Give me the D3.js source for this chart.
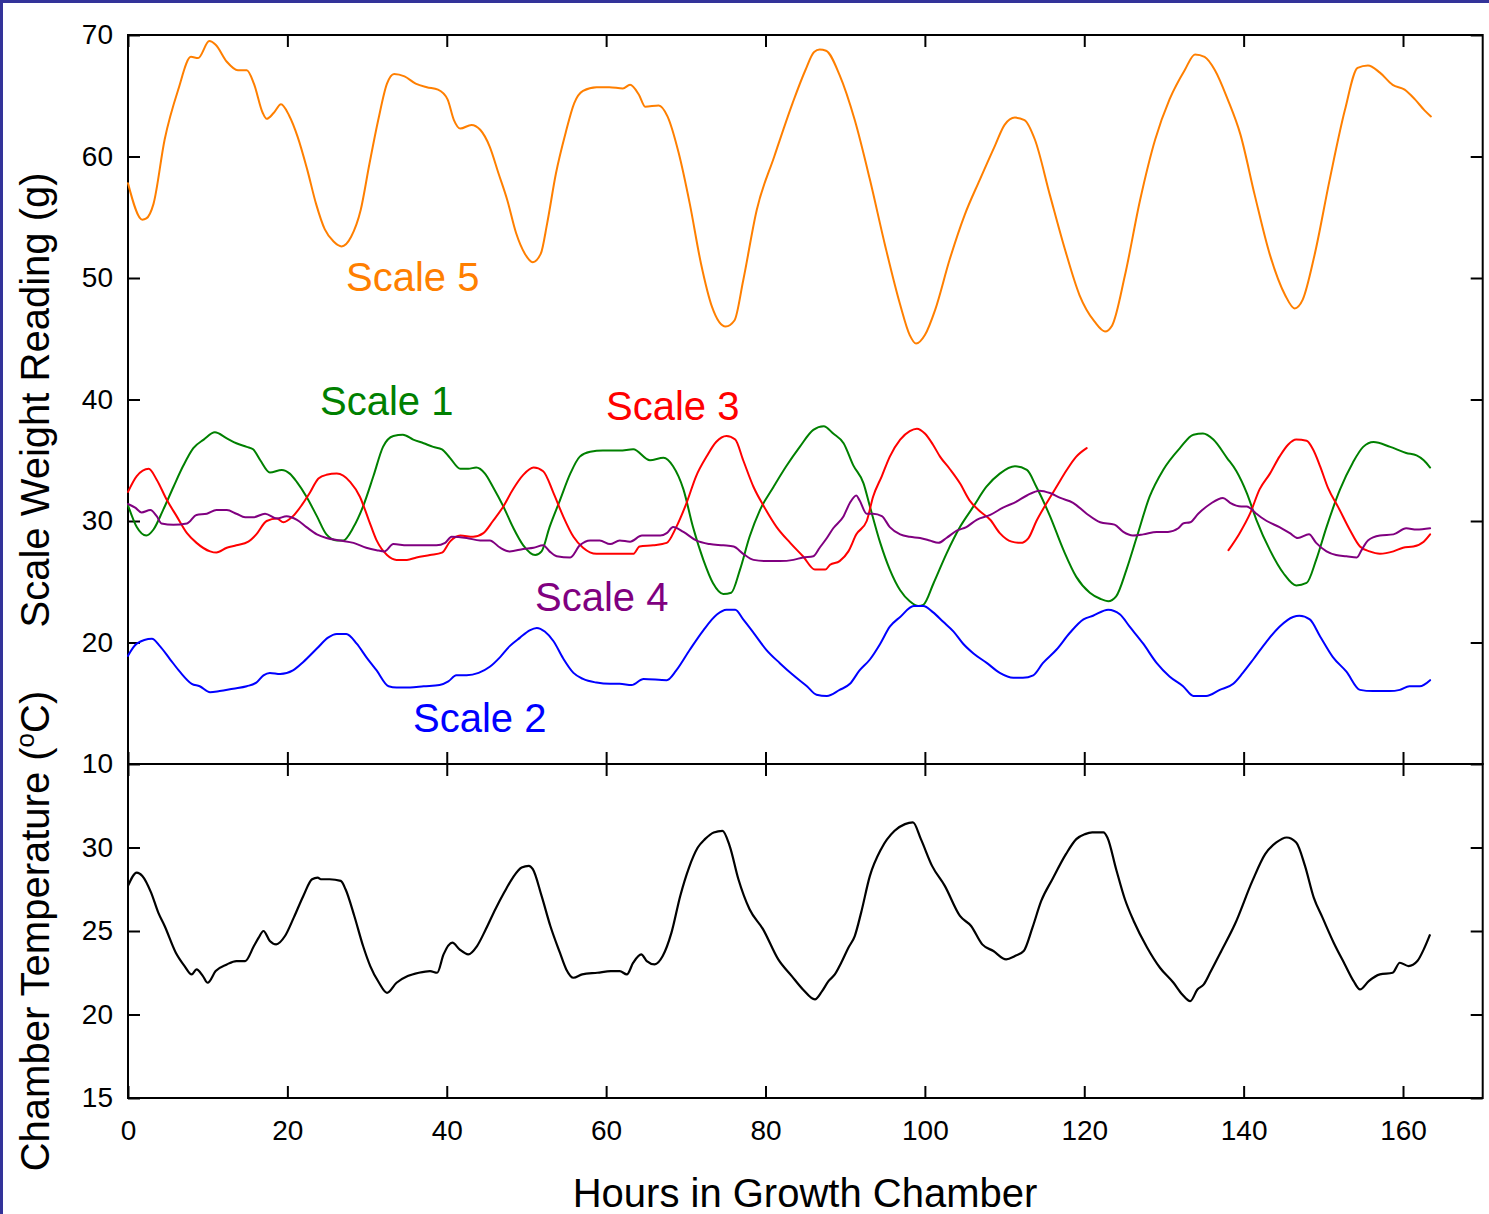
<!DOCTYPE html>
<html>
<head>
<meta charset="utf-8">
<script src="https://cdn.jsdelivr.net/npm/d3@7"></script>
<style>
  html, body { margin: 0; padding: 0; background: #fff; }
  svg { display: block; }
  text { font-family: "Liberation Sans", Arial, Helvetica, sans-serif; fill: #000; }
</style>
</head>
<body>
<svg id="chart" width="1489" height="1214"></svg>
<script>
// ---- tick values ----
const hourTicks = [0, 20, 40, 60, 80, 100, 120, 140, 160];
const weightTicks = [10, 20, 30, 40, 50, 60, 70];
const tempTicks = [15, 20, 25, 30];

// ---- series: [hours, grams] ----
const scale5 = [[0,57.8],[1.8,54.8],[2.3,54.9],[3.2,56.1],[4.6,61.4],[6.3,65.5],[7.9,68.2],[8.8,68.1],[10.2,69.5],[11.0,69.2],[12.4,67.8],[13.8,67.1],[14.9,67.1],[15.8,66.0],[16.9,63.6],[17.4,63.1],[18.3,63.6],[19.2,64.3],[20.2,63.4],[21.3,61.6],[22.5,58.9],[23.6,56.1],[24.7,54.0],[25.8,53.0],[26.8,52.6],[28.0,53.4],[29.2,55.6],[30.3,59.4],[31.4,63.0],[32.5,66.0],[33.4,66.8],[34.7,66.6],[36.1,66.0],[37.5,65.7],[38.9,65.5],[40.1,64.7],[40.9,63.0],[41.7,62.3],[43.1,62.6],[44.2,62.2],[45.4,60.8],[46.5,58.6],[47.6,56.4],[48.7,53.7],[49.8,52.0],[50.8,51.3],[51.8,52.0],[52.6,54.5],[53.7,58.6],[54.9,61.9],[56.0,64.4],[57.1,65.4],[58.8,65.7],[60.4,65.7],[62.1,65.6],[63.0,65.9],[64.1,65.1],[64.9,64.1],[66.6,64.2],[67.7,63.3],[69.1,60.3],[70.5,56.1],[71.9,51.2],[73.3,47.6],[75.0,46.0],[76.1,46.5],[77.2,49.8],[78.9,55.6],[81.1,60.0],[83.4,64.4],[85.0,67.1],[86.1,68.6],[86.8,68.8],[87.6,68.7],[89.3,66.7],[91.2,63.0],[93.1,58.1],[95.0,52.7],[96.9,47.8],[98.1,45.3],[98.9,44.6],[100.0,45.3],[101.3,47.4],[103.1,51.5],[105.0,55.2],[106.9,58.1],[108.8,60.9],[110.0,62.6],[111.3,63.2],[112.5,63.0],[113.8,61.4],[115.7,56.8],[117.6,52.3],[119.4,48.6],[121.3,46.4],[122.6,45.6],[123.5,46.1],[125.1,50.2],[127.0,56.4],[128.9,61.4],[130.7,64.7],[132.6,67.1],[133.9,68.4],[135.1,68.2],[136.4,67.1],[138.0,64.7],[139.6,61.8],[141.4,56.8],[143.3,51.9],[145.2,48.6],[146.4,47.5],[147.4,48.2],[148.9,51.9],[150.8,58.1],[152.7,63.8],[154.3,67.3],[155.6,67.5],[157.1,66.9],[158.7,65.9],[160.2,65.5],[161.5,64.7],[162.7,63.8],[163.5,63.3]];

const scale1 = [[0,31.3],[1.1,29.5],[2.3,28.8],[3.2,29.3],[4.4,30.9],[5.7,32.8],[6.9,34.5],[8.2,36.0],[9.5,36.7],[10.9,37.3],[12.4,36.8],[13.6,36.4],[14.9,36.1],[15.7,35.9],[16.6,35.0],[17.8,34.0],[19.3,34.2],[20.3,33.9],[21.2,33.2],[22.4,32.0],[23.7,30.4],[24.9,28.9],[26.2,28.4],[27.0,28.4],[28.3,29.5],[29.5,31.2],[30.8,33.7],[32.0,36.1],[33.3,37.0],[34.5,37.1],[35.8,36.7],[37.1,36.4],[38.3,36.1],[39.4,35.9],[40.4,35.2],[41.7,34.3],[42.7,34.3],[43.7,34.4],[44.8,33.9],[45.8,32.8],[47.1,31.2],[48.3,29.5],[49.6,28.0],[51.1,27.2],[51.9,27.5],[52.9,29.5],[54.2,31.7],[55.5,33.9],[56.7,35.3],[58.0,35.7],[59.6,35.8],[61.7,35.8],[63.4,35.9],[65.5,35.0],[67.2,35.2],[68.4,34.5],[69.7,32.6],[70.9,29.5],[72.2,26.8],[73.4,24.9],[74.7,24.0],[75.7,24.1],[76.8,26.0],[78.0,28.7],[79.3,30.9],[81.0,32.8],[82.6,34.5],[84.3,36.1],[86.0,37.5],[87.3,37.8],[88.5,37.2],[89.8,36.4],[91.0,34.6],[92.3,33.1],[93.1,31.2],[94.4,28.2],[95.6,26.0],[96.9,24.3],[98.1,23.4],[99.2,23.0],[99.8,23.1],[101.1,24.9],[102.7,27.3],[104.4,29.5],[106.1,31.2],[107.7,32.8],[109.4,33.9],[111.3,34.5],[112.8,34.2],[114.0,32.8],[115.7,30.4],[117.4,27.6],[119.0,25.4],[120.7,24.1],[122.0,23.6],[123.0,23.4],[124.0,23.8],[125.3,26.0],[126.6,28.7],[128.2,32.0],[129.9,34.2],[132.0,36.0],[133.7,37.1],[134.9,37.2],[136.2,36.7],[137.9,35.2],[139.1,34.1],[140.4,32.3],[141.6,30.1],[143.3,27.6],[145.0,25.7],[146.6,24.7],[147.9,24.9],[149.1,26.8],[150.4,29.5],[152.1,32.6],[153.7,34.8],[155.0,36.1],[156.3,36.5],[158.4,36.1],[160.4,35.6],[161.7,35.4],[162.6,35.0],[163.4,34.4]];

// null marks the gap in the record
const scale3 = [[0,32.4],[1.1,33.7],[2.6,34.3],[3.6,33.4],[4.9,31.7],[6.1,30.4],[7.4,29.0],[8.6,28.2],[10.3,27.5],[11.1,27.4],[12.4,27.8],[13.6,28.0],[15.1,28.3],[16.1,28.9],[17.4,30.0],[18.7,30.2],[19.5,29.9],[20.7,30.4],[21.8,31.3],[22.8,32.3],[23.9,33.5],[24.9,33.8],[26.2,33.9],[27.9,33.2],[29.1,32.0],[30.2,30.1],[31.2,28.4],[32.5,27.2],[33.7,26.8],[35.0,26.8],[36.2,27.0],[37.9,27.2],[39.4,27.4],[40.4,28.3],[41.7,28.8],[43.3,28.7],[44.6,29.0],[45.8,30.0],[47.1,31.2],[48.3,32.6],[49.6,33.8],[50.9,34.4],[52.1,34.1],[53.4,32.3],[54.6,30.4],[55.9,28.7],[57.1,27.8],[58.8,27.3],[60.5,27.3],[61.7,27.3],[63.4,27.3],[64.2,27.9],[65.9,28.0],[67.6,28.2],[68.8,29.5],[70.1,31.5],[71.3,33.7],[72.6,35.3],[73.8,36.5],[75.1,37.0],[76.2,36.7],[77.2,35.0],[78.5,32.8],[79.8,31.2],[81.4,29.5],[83.1,28.2],[84.7,27.1],[86.2,26.0],[87.5,26.0],[88.1,26.4],[89.3,26.7],[90.4,27.5],[91.4,28.9],[92.7,30.0],[93.5,32.0],[94.6,33.7],[95.6,35.3],[96.9,36.7],[98.1,37.4],[99.0,37.6],[100.0,37.2],[101.0,36.3],[101.9,35.3],[103.1,34.3],[104.4,33.1],[105.6,31.7],[106.9,30.8],[108.2,30.1],[109.4,29.0],[110.9,28.3],[112.0,28.2],[113.0,28.6],[114.0,30.0],[115.3,31.5],[116.5,32.8],[117.8,34.2],[119.0,35.3],[120.3,36.0],null,[138.1,27.6],[139.5,29.0],[140.8,30.6],[142.0,32.6],[143.3,33.9],[144.5,35.3],[145.6,36.3],[146.6,36.7],[147.9,36.6],[148.7,35.9],[149.6,34.5],[150.6,32.7],[151.9,31.1],[153.3,29.3],[154.6,27.9],[155.8,27.5],[157.1,27.3],[158.8,27.5],[160.0,27.8],[161.3,27.9],[162.6,28.3],[163.4,28.9]];

const scale4 = [[0,31.4],[0.9,31.1],[1.7,30.7],[2.8,30.9],[3.6,30.4],[4.2,29.8],[5.7,29.7],[7.4,29.8],[8.6,30.5],[9.9,30.6],[11.1,30.9],[12.4,30.9],[13.6,30.6],[14.7,30.3],[15.7,30.3],[17.2,30.6],[18.7,30.2],[19.9,30.4],[21.2,30.1],[22.4,29.5],[23.7,28.9],[24.9,28.6],[26.6,28.4],[28.3,28.2],[29.9,27.8],[31.2,27.6],[32.2,27.5],[33.3,28.1],[35.0,28.0],[36.6,28.0],[38.7,28.0],[39.8,28.2],[40.6,28.7],[42.5,28.6],[44.2,28.4],[45.4,28.4],[46.7,27.8],[47.9,27.5],[49.6,27.7],[50.9,27.8],[52.1,28.0],[52.9,27.5],[53.8,27.1],[55.5,27.0],[56.7,28.0],[58.0,28.4],[59.2,28.4],[60.5,28.1],[61.7,28.4],[63.0,28.3],[64.5,28.8],[66.8,28.8],[67.6,29.0],[68.4,29.5],[69.7,29.1],[71.3,28.4],[73.0,28.1],[74.7,28.0],[76.0,27.9],[77.2,27.3],[78.5,26.8],[80.1,26.7],[81.8,26.7],[83.5,26.8],[84.7,27.0],[86.0,27.1],[86.8,27.8],[87.7,28.6],[88.5,29.4],[89.8,30.4],[90.6,31.5],[91.4,32.1],[91.8,31.7],[92.7,30.6],[93.5,30.6],[94.6,30.4],[95.6,29.5],[96.9,28.9],[98.1,28.7],[99.4,28.6],[100.6,28.4],[101.7,28.2],[102.7,28.6],[104.0,29.2],[105.2,29.5],[106.5,30.1],[108.2,30.5],[109.8,31.1],[111.5,31.6],[112.8,32.1],[114.4,32.5],[115.7,32.3],[117.0,31.9],[118.6,31.5],[120.3,30.6],[122.0,29.9],[123.8,29.7],[124.9,29.1],[126.1,28.8],[127.4,28.9],[129.1,29.1],[130.5,29.1],[131.8,29.4],[132.4,29.8],[133.3,29.9],[134.3,30.6],[135.8,31.4],[137.4,31.9],[138.3,31.5],[139.7,31.2],[140.4,31.2],[141.6,30.6],[142.9,30.0],[144.5,29.5],[145.8,29.0],[146.8,28.6],[148.2,28.9],[149.1,28.2],[150.4,27.5],[151.6,27.2],[152.9,27.1],[154.2,27.0],[154.8,27.6],[155.6,28.4],[157.1,28.8],[158.8,28.9],[160.4,29.4],[161.7,29.3],[163.4,29.4]];

const scale2 = [[0,18.9],[1.1,19.9],[3.0,20.3],[4.0,19.7],[5.3,18.6],[6.5,17.6],[8.0,16.6],[9.0,16.4],[10.3,15.9],[11.5,16.0],[13.2,16.2],[14.9,16.4],[16.1,16.7],[17.0,17.3],[17.8,17.5],[19.1,17.4],[20.7,17.7],[22.0,18.4],[23.7,19.5],[25.1,20.4],[26.2,20.7],[27.4,20.7],[28.7,19.9],[29.9,18.8],[31.2,17.7],[32.7,16.4],[33.7,16.3],[35.4,16.3],[37.1,16.4],[39.1,16.5],[40.2,16.8],[41.2,17.3],[42.5,17.3],[44.0,17.5],[45.4,18.0],[46.7,18.8],[47.9,19.7],[49.2,20.4],[50.4,21.0],[51.3,21.2],[52.3,20.9],[53.4,20.1],[54.6,18.7],[55.9,17.5],[57.1,17.0],[58.8,16.7],[60.5,16.6],[61.7,16.6],[63.2,16.5],[64.7,17.0],[67.6,16.9],[68.8,17.7],[70.5,19.4],[72.2,21.0],[73.9,22.3],[75.1,22.7],[76.2,22.7],[77.2,21.9],[78.5,20.8],[80.1,19.4],[81.8,18.3],[83.5,17.3],[85.2,16.4],[86.4,15.7],[87.7,15.6],[89.3,16.1],[90.6,16.6],[91.8,17.7],[93.1,18.6],[94.4,19.9],[95.6,21.3],[96.9,22.1],[98.6,23.0],[99.8,23.0],[101.0,22.5],[102.3,21.7],[103.6,20.9],[104.8,19.9],[106.1,19.1],[107.8,18.3],[109.4,17.5],[111.1,17.1],[112.3,17.1],[113.6,17.3],[114.8,18.3],[116.5,19.4],[118.2,20.8],[119.9,21.9],[121.1,22.2],[123.0,22.7],[124.5,22.3],[125.7,21.3],[127.4,19.9],[129.1,18.3],[130.7,17.2],[132.4,16.4],[133.7,15.6],[135.3,15.6],[137.0,16.1],[138.7,16.6],[139.9,17.5],[141.2,18.6],[142.9,20.1],[144.5,21.3],[146.2,22.1],[147.0,22.2],[148.3,21.9],[149.6,20.5],[151.2,18.8],[152.9,17.6],[154.6,16.1],[156.2,16.0],[158.3,16.0],[159.6,16.1],[160.8,16.4],[162.1,16.4],[163.4,16.9]];

// ---- chamber temperature: [hours, deg C] ----
const chamberTemp = [[0,27.7],[1.1,28.5],[1.8,28.3],[2.9,27.3],[3.8,26.1],[4.6,25.3],[6.0,23.7],[7.1,22.9],[8.0,22.4],[8.6,22.7],[9.4,22.3],[10.0,21.9],[11.0,22.6],[12.4,23.0],[13.6,23.2],[14.7,23.2],[15.8,24.1],[16.4,24.6],[17.0,25.0],[17.8,24.4],[18.6,24.2],[19.7,24.7],[20.8,25.8],[22.0,27.1],[23.1,28.1],[23.8,28.2],[24.2,28.1],[25.3,28.1],[26.7,28.0],[27.3,27.5],[28.4,25.9],[29.5,24.1],[30.4,22.9],[31.5,21.9],[32.5,21.3],[33.7,21.9],[35.1,22.3],[36.5,22.5],[37.9,22.6],[38.8,22.5],[39.6,23.6],[40.7,24.3],[41.6,23.9],[42.7,23.6],[43.8,24.1],[44.9,25.1],[46.1,26.3],[47.2,27.3],[48.3,28.2],[49.4,28.8],[50.3,28.9],[50.8,28.7],[51.9,27.1],[53.0,25.3],[54.2,23.7],[55.0,22.7],[55.9,22.2],[57.0,22.4],[58.9,22.5],[60.6,22.6],[61.7,22.6],[62.6,22.4],[63.4,23.1],[64.4,23.6],[65.1,23.2],[66.1,23.0],[67.1,23.5],[68.2,24.9],[69.3,27.1],[70.4,28.8],[71.5,30.0],[72.4,30.5],[73.5,30.9],[74.6,31.0],[75.5,30.1],[76.6,28.1],[78.0,26.3],[79.7,25.1],[81.6,23.3],[83.3,22.3],[84.7,21.5],[86.2,20.9],[87.1,21.4],[87.9,22.0],[88.7,22.4],[89.5,23.1],[90.4,24.0],[91.2,24.7],[92.0,26.1],[93.1,28.3],[94.5,29.9],[96.2,31.0],[97.5,31.4],[98.5,31.5],[99.5,30.5],[100.9,28.9],[102.5,27.7],[104.4,25.9],[105.8,25.3],[107.2,24.2],[108.6,23.8],[110.2,23.3],[111.3,23.5],[112.4,23.8],[113.5,25.2],[114.6,26.8],[116.0,28.1],[117.7,29.6],[119.0,30.5],[120.1,30.8],[121.0,30.9],[122.4,30.9],[122.9,30.6],[124.0,28.7],[125.1,26.9],[126.2,25.6],[127.9,24.0],[129.5,22.8],[131.2,21.9],[132.3,21.2],[133.3,20.8],[134.2,21.5],[135.0,21.8],[135.9,22.6],[137.2,23.8],[138.9,25.4],[141.1,28.0],[142.7,29.6],[144.1,30.3],[145.4,30.6],[146.6,30.3],[147.7,28.9],[148.8,27.0],[149.9,25.8],[151.3,24.3],[152.7,23.0],[153.8,22.0],[154.6,21.5],[155.7,22.0],[157.1,22.4],[158.7,22.5],[159.6,23.1],[160.7,22.9],[161.8,23.2],[162.6,23.9],[163.4,24.8]];

const weightSeries = [
  { name: "Scale 5", data: scale5, color: "#ff7f00", lx: 346, ly: 291 },
  { name: "Scale 1", data: scale1, color: "#008000", lx: 320, ly: 415 },
  { name: "Scale 3", data: scale3, color: "#ff0000", lx: 606, ly: 420 },
  { name: "Scale 4", data: scale4, color: "#800080", lx: 535, ly: 611 },
  { name: "Scale 2", data: scale2, color: "#0000ff", lx: 413, ly: 732 }
];

// ---- layout ----
const left = 128, right = 1482.7;
const topY = 35, midY = 764, bottomY = 1098;

const svg = d3.select("#chart");

const x = d3.scaleLinear().domain([0, 170]).range([left, right]);
const yW = d3.scaleLinear().domain([10, 70]).range([midY, topY]);
const yT = d3.scaleLinear().domain([15, 35]).range([bottomY, midY]);

// page frame
svg.append("rect").attr("x", 0).attr("y", 0).attr("width", 1489).attr("height", 3).attr("fill", "#333399");
svg.append("rect").attr("x", 0).attr("y", 0).attr("width", 3).attr("height", 1214).attr("fill", "#333399");

const tickLen = 12;
const tickFont = 28;

function styleAxis(g) {
  g.select(".domain").remove();
  g.selectAll(".tick line").attr("stroke", "#000").attr("stroke-width", 2);
  g.selectAll(".tick text").attr("font-size", tickFont)
    .attr("font-family", "\"Liberation Sans\", Arial, sans-serif").attr("fill", "#000");
}

// weight panel axes
svg.append("g").attr("transform", `translate(${left},0)`)
  .call(d3.axisLeft(yW).tickValues(weightTicks).tickSizeInner(-tickLen).tickSizeOuter(0).tickPadding(15))
  .call(styleAxis);
svg.append("g").attr("transform", `translate(${right},0)`)
  .call(d3.axisRight(yW).tickValues(weightTicks).tickSizeInner(-tickLen).tickSizeOuter(0).tickFormat(""))
  .call(styleAxis);
svg.append("g").attr("transform", `translate(0,${topY})`)
  .call(d3.axisTop(x).tickValues(hourTicks).tickSizeInner(-tickLen).tickSizeOuter(0).tickFormat(""))
  .call(styleAxis);
svg.append("g").attr("transform", `translate(0,${midY})`)
  .call(d3.axisBottom(x).tickValues(hourTicks).tickSizeInner(-tickLen).tickSizeOuter(0).tickFormat(""))
  .call(styleAxis);

// temperature panel axes
svg.append("g").attr("transform", `translate(${left},0)`)
  .call(d3.axisLeft(yT).tickValues(tempTicks).tickSizeInner(-tickLen).tickSizeOuter(0).tickPadding(15))
  .call(styleAxis);
svg.append("g").attr("transform", `translate(${right},0)`)
  .call(d3.axisRight(yT).tickValues(tempTicks).tickSizeInner(-tickLen).tickSizeOuter(0).tickFormat(""))
  .call(styleAxis);
svg.append("g").attr("transform", `translate(0,${midY})`)
  .call(d3.axisTop(x).tickValues(hourTicks).tickSizeInner(-tickLen).tickSizeOuter(0).tickFormat(""))
  .call(styleAxis);
svg.append("g").attr("transform", `translate(0,${bottomY})`)
  .call(d3.axisBottom(x).tickValues(hourTicks).tickSizeInner(-tickLen).tickSizeOuter(0).tickPadding(22))
  .call(styleAxis);

// panel frames
svg.append("rect").attr("x", left).attr("y", topY).attr("width", right - left).attr("height", midY - topY)
  .attr("fill", "none").attr("stroke", "#000").attr("stroke-width", 2);
svg.append("rect").attr("x", left).attr("y", midY).attr("width", right - left).attr("height", bottomY - midY)
  .attr("fill", "none").attr("stroke", "#000").attr("stroke-width", 2);

// weight traces
const lineW = d3.line().defined(d => d !== null).x(d => x(d[0])).y(d => yW(d[1])).curve(d3.curveMonotoneX);
const lineT = d3.line().x(d => x(d[0])).y(d => yT(d[1])).curve(d3.curveMonotoneX);

weightSeries.forEach(s => {
  svg.append("path").datum(s.data).attr("d", lineW)
    .attr("fill", "none").attr("stroke", s.color).attr("stroke-width", 2)
    .attr("stroke-linejoin", "round").attr("stroke-linecap", "round");
});

svg.append("path").datum(chamberTemp).attr("d", lineT)
  .attr("fill", "none").attr("stroke", "#000").attr("stroke-width", 2.2)
  .attr("stroke-linejoin", "round");

// series labels
weightSeries.forEach(s => {
  svg.append("text").attr("x", s.lx).attr("y", s.ly)
    .attr("font-size", 40).style("fill", s.color).text(s.name);
});

// axis titles
svg.append("text").attr("x", 805).attr("y", 1207).attr("text-anchor", "middle")
  .attr("font-size", 40).text("Hours in Growth Chamber");

svg.append("text").attr("transform", "translate(49,400) rotate(-90)").attr("text-anchor", "middle")
  .attr("font-size", 40).text("Scale Weight Reading (g)");

const tTitle = svg.append("text").attr("transform", "translate(49,931) rotate(-90)").attr("text-anchor", "middle")
  .attr("font-size", 40);
tTitle.append("tspan").text("Chamber Temperature (");
tTitle.append("tspan").attr("font-size", 26).attr("dy", -15).text("o");
tTitle.append("tspan").attr("dy", 15).text("C)");
</script>
</body>
</html>
